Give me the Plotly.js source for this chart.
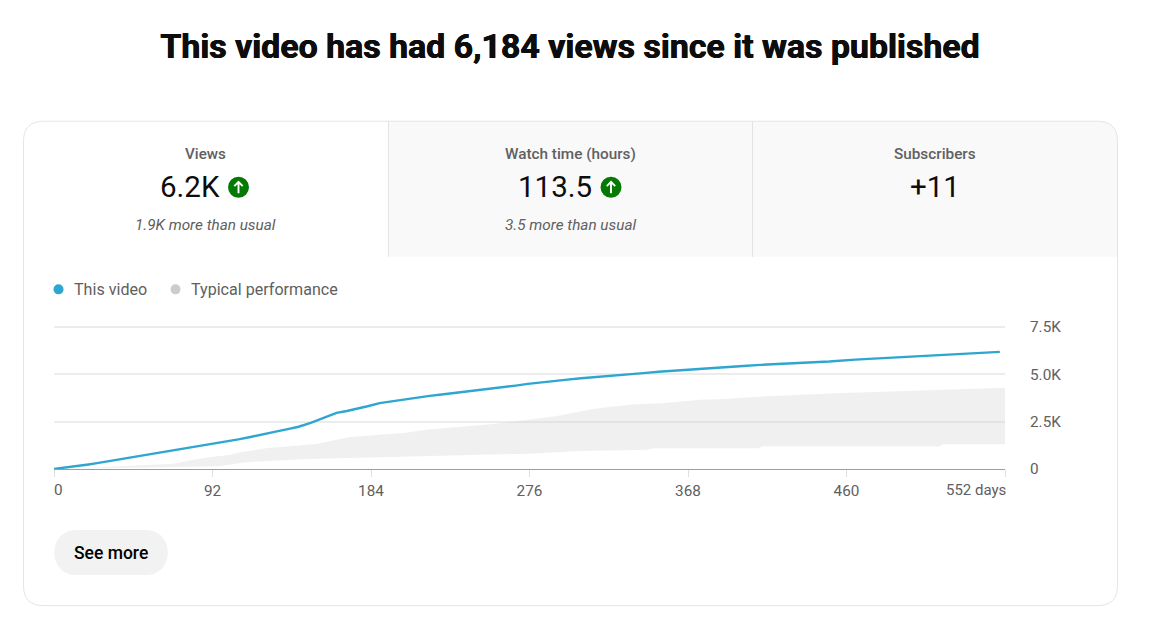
<!DOCTYPE html>
<html><head><meta charset="utf-8">
<script src="https://cdn.plot.ly/plotly-3.0.1.min.js"></script>
<style>html,body{margin:0;padding:0;background:#fff;overflow:hidden}#c{width:1149px;height:631px}</style>
</head><body><div id="c"></div>
<script>
const xTickVals = [0, 92, 184, 276, 368, 460, 552];
const xTickText = ['', '92', '184', '276', '368', '460', ''];
const yTickVals = [0, 2500, 5000, 7500];
const yTickText = ['0', '2.5K', '5.0K', '7.5K'];

const videoDays = [0,4,9,14,20,25,31,37,43,49,55,61,67,73,80,87,93,100,107,114,121,128,135,142,149,154,159,164,170,176,182,189,197,204,211,218,225,232,239,246,253,260,268,275,282,290,298,306,315,324,333,342,351,360,370,380,390,400,410,422,435,450,465,480,495,510,525,538,549];
const videoViews = [0,40,95,160,240,310,400,490,585,680,770,860,945,1035,1130,1240,1350,1440,1565,1690,1840,1960,2090,2230,2430,2620,2800,2960,3060,3170,3310,3480,3590,3680,3770,3860,3930,4000,4070,4150,4230,4310,4400,4490,4570,4650,4720,4790,4850,4920,4990,5060,5130,5190,5270,5340,5390,5440,5495,5545,5600,5670,5770,5845,5925,6020,6100,6145,6184];

const upperDays = [0,15,31,50,69,81,92,102,108,123,139,152,160,172,187,203,216,230,243,255,266,282,291,301,313,322,336,355,375,390,406,431,458,495,518,541,552];
const upperViews = [0,30,105,176,280,490,650,740,880,1090,1230,1320,1460,1690,1795,1900,2077,2180,2270,2376,2500,2675,2780,2957,3170,3270,3400,3485,3660,3700,3800,3907,4013,4118,4190,4294,4294];
const lowerDays = [0,31,69,96,108,116,147,195,228,276,305,344,348,409,411,514,516,552];
const lowerViews = [0,30,100,140,317,387,528,634,704,810,950,1020,1091,1100,1197,1197,1302,1302];

const W = 1149, H = 631, L = 54, R = 1005, B = 469, yTop = 7600;
const T = B - 142 * yTop / 7500;
const px = x => (x - L) / (R - L);
const py = y => (B - y) / (B - T);
const GREY = '#606060', INK = '#0d0d0d', FONT = 'Roboto';

function note(text, x, y, size, color, opts) {
  opts = opts || {};
  return {text: text, xref: 'paper', yref: 'paper', x: px(x), y: py(y), showarrow: false,
    xanchor: opts.anchor || 'center', yanchor: 'middle', borderpad: 0,
    font: {family: FONT, size: size, color: color, weight: opts.weight || 400, style: opts.style || 'normal'}};
}
function pathShape(list, fill, line, lw, layer) {
  return {type: 'path', xref: 'paper', yref: 'paper', layer: layer || 'below',
    path: list.map(s => typeof s === 'string' ? s : px(s[0]) + ',' + py(s[1])).join(' '),
    fillcolor: fill, line: {color: line || 'rgba(0,0,0,0)', width: lw || 0}};
}
function circle(cx, cy, r, fill) {
  return {type: 'circle', xref: 'paper', yref: 'paper', layer: 'below',
    x0: px(cx - r), x1: px(cx + r), y0: py(cy + r), y1: py(cy - r), fillcolor: fill, line: {width: 0}};
}
function vline(x, y0, y1, color) {
  return {type: 'line', xref: 'paper', yref: 'paper', layer: 'below', x0: px(x), x1: px(x), y0: py(y0), y1: py(y1), line: {color: color, width: 1}};
}
function arrow(cx, cy) {
  return pathShape(['M', [cx, cy + 6], 'L', [cx, cy - 5], 'M', [cx - 4.2, cy - 1.2], 'L', [cx, cy - 5.4], 'L', [cx + 4.2, cy - 1.2]],
    'rgba(0,0,0,0)', '#ffffff', 1.9);
}

const cL = 23.5, cR = 1117.5, cT = 121.5, cB = 605.5, rad = 20, tabB = 257;
const shapes = [
  pathShape(['M', [389, cT], 'L', [cR - rad, cT], 'Q', [cR, cT], [cR, cT + rad], 'L', [cR, tabB], 'L', [389, tabB], 'Z'], '#f9f9f9'),
  pathShape(['M', [cL + rad, cT], 'L', [cR - rad, cT], 'Q', [cR, cT], [cR, cT + rad], 'L', [cR, cB - rad], 'Q', [cR, cB], [cR - rad, cB],
    'L', [cL + rad, cB], 'Q', [cL, cB], [cL, cB - rad], 'L', [cL, cT + rad], 'Q', [cL, cT], [cL + rad, cT], 'Z'], 'rgba(0,0,0,0)', '#e5e5e5', 1),
  vline(388.5, cT, tabB, '#e3e3e3'),
  vline(752.5, cT, tabB, '#e3e3e3'),
  circle(238.5, 187.5, 10.5, '#047a04'), arrow(238.5, 187.5),
  circle(611, 187.5, 10.5, '#047a04'), arrow(611, 187.5),
  circle(58.5, 289.5, 5, '#2ea6d0'),
  circle(175.5, 289.5, 5, '#cccccc'),
  pathShape(['M', [76, 530], 'L', [146, 530], 'C', [175, 530], [175, 575], [146, 575], 'L', [76, 575], 'C', [47, 575], [47, 530], [76, 530], 'Z'], '#f2f2f2')
];

const annotations = [
  note('Views', 205.5, 154, 15.2, GREY, {weight: 500}),
  note('6.2K', 190, 187, 29.5, INK),
  note('1.9K more than usual', 205.5, 225, 15.3, GREY, {style: 'italic'}),
  note('Watch time (hours)', 570, 154, 15.3, GREY, {weight: 500}),
  note('113.5', 554.5, 187, 29.5, INK),
  note('3.5 more than usual', 570, 225, 15.3, GREY, {style: 'italic'}),
  note('Subscribers', 934.5, 154, 15.3, GREY, {weight: 500}),
  note('+11', 934.5, 187, 29.5, INK),
  note('This video', 72.5, 289.5, 16.1, GREY, {anchor: 'left'}),
  note('Typical performance', 189.5, 289.5, 16.1, GREY, {anchor: 'left'}),
  note('0', 52.5, 490, 15.3, GREY, {anchor: 'left'}),
  note('552 days', 1006.5, 490, 15, GREY, {anchor: 'right'}),
  note('See more', 111, 553, 17.5, '#000000', {weight: 500})
];

const data = [
  {x: lowerDays, y: lowerViews, type: 'scatter', mode: 'lines', line: {width: 0, color: 'rgba(0,0,0,0)'}, hoverinfo: 'skip', showlegend: false, name: 'Typical low'},
  {x: upperDays, y: upperViews, type: 'scatter', mode: 'lines', fill: 'tonexty', fillcolor: 'rgba(204,204,204,0.3)', line: {width: 0, color: 'rgba(0,0,0,0)'}, hoverinfo: 'skip', showlegend: false, name: 'Typical performance'},
  {x: videoDays, y: videoViews, type: 'scatter', mode: 'lines', line: {width: 2.4, color: '#2ea6d0'}, showlegend: false, name: 'This video'}
];

const layout = {
  width: W, height: H, autosize: false, showlegend: false,
  paper_bgcolor: '#ffffff', plot_bgcolor: 'rgba(0,0,0,0)',
  margin: {l: L, r: W - R, t: T, b: H - B, pad: 0},
  title: {text: 'This video has had 6,184 views since it was published', font: {family: FONT, size: 33.9, color: INK, weight: 700, shadow: '0.4px 0 0 #0d0d0d, -0.4px 0 0 #0d0d0d'},
    x: 570 / W, xanchor: 'center', xref: 'container', y: 1 - 46 / H, yanchor: 'middle', yref: 'container'},
  font: {family: FONT, size: 15.3, color: GREY},
  xaxis: {range: [0, 552], tickmode: 'array', tickvals: xTickVals, ticktext: xTickText, showgrid: false, zeroline: false,
    showline: true, linecolor: '#9e9e9e', linewidth: 1, ticks: 'outside', ticklen: 7, tickwidth: 1, tickcolor: '#e0e0e0',
    tickfont: {family: FONT, size: 15.3, color: GREY}, ticklabelstandoff: 1, fixedrange: true},
  yaxis: {range: [0, yTop], side: 'right', tickmode: 'array', tickvals: yTickVals, ticktext: yTickText, showgrid: true,
    gridcolor: '#ececec', gridwidth: 2, zeroline: false, showline: false, ticks: '', ticklabelstandoff: 24,
    tickfont: {family: FONT, size: 15.3, color: GREY}, fixedrange: true},
  shapes: shapes,
  annotations: annotations
};
Plotly.newPlot('c', data, layout, {displayModeBar: false, staticPlot: true});
</script></body></html>
